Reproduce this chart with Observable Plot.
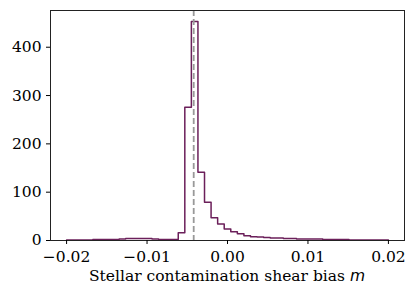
<!DOCTYPE html>
<html><head>
<meta charset="utf-8">
<script src="https://cdn.jsdelivr.net/npm/d3@7"></script>
<script src="https://cdn.jsdelivr.net/npm/@observablehq/plot@0.6"></script>
<style>body{margin:0;background:#fff}</style>
</head><body><div id="chart"></div>
<script>
const binStart = -0.02;
const binEnd = 0.02;
const counts = [1,1,1,1,2,2,2,2,3,4,4,4,4,3,2,2,2,
  16,276,453,141,79,47,34,24,18,14,10,8,7,6,5,5,4,4,3,3,3,3,2,2,2,2,1,1,1,1,1,1];
const markerLine = [-0.0042];
const xTicks = [-0.02, -0.01, 0, 0.01, 0.02];
const yTicks = [0, 100, 200, 300, 400];
const xLabel = "Stellar contamination shear bias ";
const xLabelVar = "m";

const n = counts.length;
const binWidth = (binEnd - binStart) / n;
const outline = [{x: binStart, y: 0}];
counts.forEach((c, i) => outline.push({x: binStart + i * binWidth, y: c}));
outline.push({x: binEnd, y: counts[n - 1]});
outline.push({x: binEnd, y: 0});

const fmt = d3.format(".2f");
const W = 416, H = 296;
const FONT = "'DejaVu Serif', serif";
const plot = Plot.plot({
  width: W, height: H,
  marginLeft: 50, marginRight: 12, marginTop: 10, marginBottom: 56,
  style: {fontFamily: FONT, fontSize: "15.5px", color: "#000", background: "#fff"},
  x: {domain: [-0.022, 0.022]},
  y: {domain: [0, 476]},
  marks: [
    Plot.line(outline, {x: "x", y: "y", curve: "step-after", stroke: "#6b1f5a", strokeWidth: 1.5}),
    Plot.ruleX(markerLine, {stroke: "#999", strokeWidth: 1.8, strokeDasharray: "6,3"}),
    Plot.frame({stroke: "#222", strokeWidth: 1}),
    Plot.axisX({ticks: xTicks, tickFormat: fmt, tickSize: 4, tickPadding: 6, label: null}),
    Plot.axisY({ticks: yTicks, tickFormat: d => String(d), tickSize: 4, tickPadding: 5, label: null})
  ]
});
document.getElementById("chart").appendChild(plot);
const xr = plot.scale("x").range;
const t = d3.select(plot).append("text")
  .attr("x", (xr[0] + xr[1]) / 2).attr("y", H - 15)
  .attr("text-anchor", "middle")
  .style("font-family", FONT).style("font-size", "15.5px").attr("fill", "#000");
t.append("tspan").text(xLabel);
t.append("tspan").style("font-family", "'DejaVu Sans', sans-serif").style("font-style", "italic").text(xLabelVar);
</script>
</body></html>
